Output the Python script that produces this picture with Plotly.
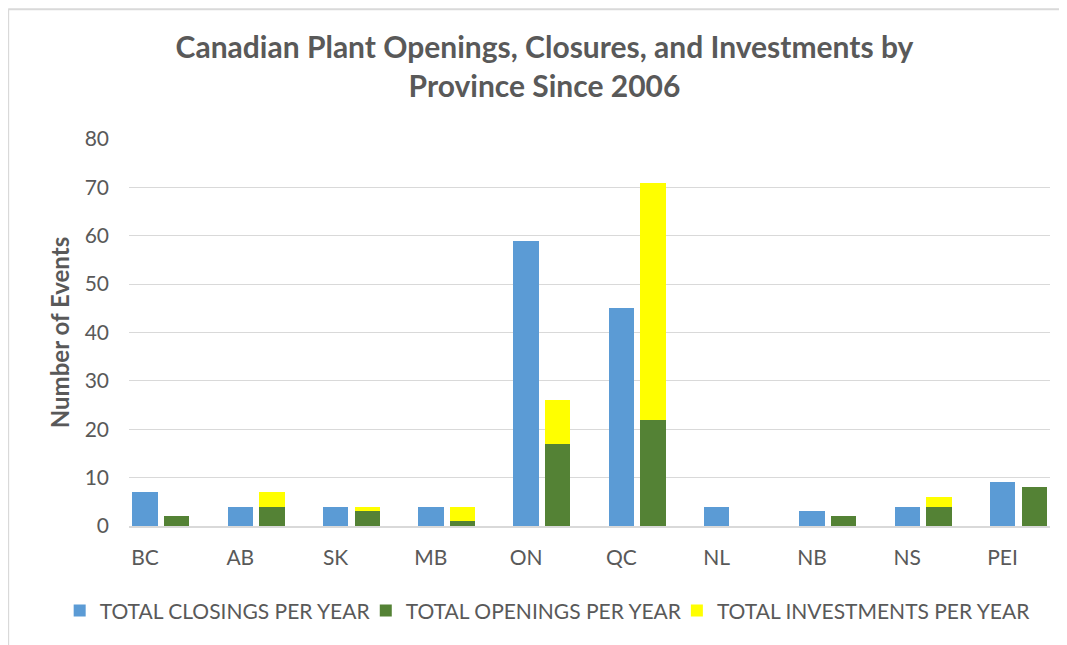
import plotly.graph_objects as go

provinces = ["BC", "AB", "SK", "MB", "ON", "QC", "NL", "NB", "NS", "PEI"]
closings = [7, 4, 4, 4, 59, 45, 4, 3, 4, 9]
openings = [2, 4, 3, 1, 17, 22, 0, 2, 4, 8]
investments = [0, 3, 1, 3, 9, 49, 0, 0, 2, 0]

idx = list(range(len(provinces)))
offset = 0.332
bw = 0.266

FONT = "Lato, 'Open Sans', sans-serif"
GREY = "#595959"
GRID = "#D9D9D9"

# page body has an 8px margin; work in window pixels and shift
S = 8
FW, FH = 1067 - S, 645 - S

fig = go.Figure()
fig.add_trace(go.Bar(x=idx, y=closings, width=bw, name="TOTAL CLOSINGS PER YEAR",
                     marker=dict(color="#5B9BD5", line=dict(width=0)), legend="legend"))
fig.add_trace(go.Bar(x=[i + offset for i in idx], y=openings, width=bw,
                     name="TOTAL OPENINGS PER YEAR",
                     marker=dict(color="#548235", line=dict(width=0)), legend="legend2"))
fig.add_trace(go.Bar(x=[i + offset for i in idx], y=investments, width=bw,
                     name="TOTAL INVESTMENTS PER YEAR",
                     marker=dict(color="#FFFF00", line=dict(width=0)), legend="legend3"))

L, R, T, B = 129.3 - S, 1050.0 - S, 138.8 - S, 526.0 - S
W, H = R - L, B - T

def px_x(p):
    return (p - S - L) / W

def px_y(p):
    return (B - (p - S)) / H

def leg(xpx):
    return dict(orientation="h", x=px_x(xpx), xanchor="left", y=px_y(611), yanchor="middle",
                font=dict(size=21, color=GREY), bgcolor="rgba(0,0,0,0)")

fig.update_layout(
    width=FW, height=FH,
    margin=dict(l=L, r=FW - R, t=T, b=FH - B, autoexpand=False),
    paper_bgcolor="white", plot_bgcolor="white",
    barmode="stack",
    font=dict(family=FONT, color=GREY, size=21),
    title=dict(text="<b>Canadian Plant Openings, Closures, and Investments by<br>Province Since 2006</b>",
               x=(544.5 - S) / FW, xanchor="center", xref="container",
               y=1 - (57.5 - S) / FH, yanchor="middle", yref="container",
               font=dict(family=FONT, size=30, color=GREY)),
    xaxis=dict(range=[-0.168, 9.498], tickvals=idx, ticktext=provinces,
               showgrid=False, zeroline=False, showline=True, linecolor=GRID, linewidth=1.5,
               ticks="", ticklabelstandoff=12, tickfont=dict(size=21, color=GREY)),
    yaxis=dict(range=[0, 80], dtick=10, showgrid=True, gridcolor=GRID, gridwidth=1,
               zeroline=False, showline=False, ticks="", ticklabelstandoff=19,
               tickfont=dict(size=21, color=GREY),
               title=dict(text="<b>Number of Events</b>", standoff=8,
                          font=dict(size=24, color=GREY))),
    legend=leg(60),
    legend2=leg(366),
    legend3=leg(677),
    showlegend=True,
)

fig.add_shape(type="line", xref="paper", yref="paper",
              x0=px_x(8.5), x1=px_x(1067), y0=px_y(9), y1=px_y(9),
              line=dict(color=GRID, width=2))
fig.add_shape(type="line", xref="paper", yref="paper",
              x0=px_x(8.5), x1=px_x(8.5), y0=px_y(9), y1=px_y(645),
              line=dict(color=GRID, width=2))

fig.write_html("out.html")
